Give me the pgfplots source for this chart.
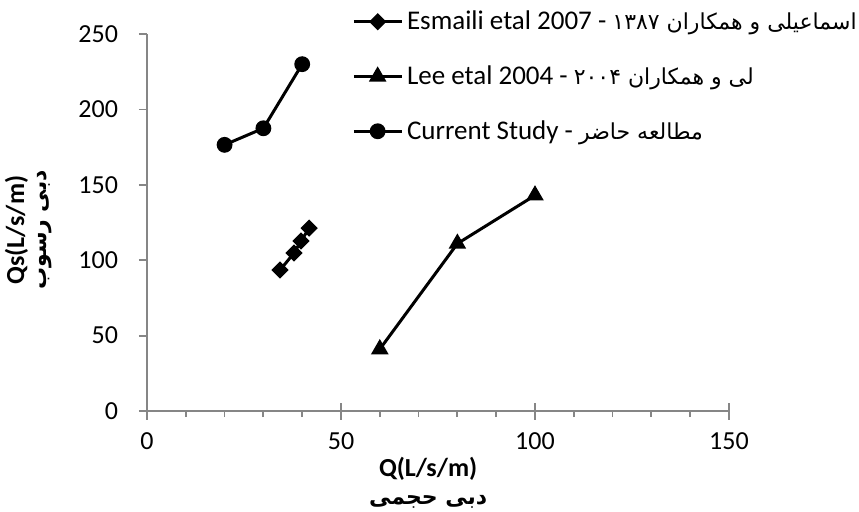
\documentclass[border=0pt]{standalone}
\usepackage{fontspec}
\setmainfont{Carlito}
\newfontfamily\arabicfont[Script=Arabic]{DejaVu Sans}
\TeXXeTstate=1
\usepackage{pgfplots}
\pgfplotsset{compat=1.18}
\definecolor{axgray}{HTML}{868686}

\pgfplotstableread{
x y
34.3 93.5
37.9 104.8
39.7 112.7
41.8 121.3
}\esmaili
\pgfplotstableread{
x y
60 41
80 111
100 143
}\lee
\pgfplotstableread{
x y
20 176.5
30 187.5
40 230
}\current

\begin{document}
\begin{tikzpicture}
\begin{axis}[
  scale only axis,
  width=291pt, height=188.5pt,
  xmin=0, xmax=150, ymin=0, ymax=250,
  axis x line=bottom, axis y line=left,
  axis line style={-, draw=axgray, line width=0.9pt},
  xtick={0,50,100,150}, ytick={0,50,100,150,200,250},
  minor x tick num=4,
  tick align=outside,
  major tick length=4pt, minor tick length=3pt,
  every tick/.style={draw=axgray, line width=0.9pt},
  /pgf/number format/assume math mode=true,
  tick label style={font=\fontsize{13}{15}\selectfont, black},
  xticklabel style={yshift=-3.5pt},
  yticklabel style={xshift=-7pt},
  xlabel={\textbf{Q(L/s/m)}\\\hbox{\arabicfont\bfseries\fontsize{11}{13}\selectfont\beginR دبی حجمی\endR}},
  xlabel style={align=center, font=\fontsize{13}{14}\selectfont, at={(axis description cs:0.483,-0.19)}, anchor=center},
  ylabel={\textbf{Qs(L/s/m)}\\\hbox{\arabicfont\bfseries\fontsize{11}{13}\selectfont\beginR دبی رسوب\endR}},
  ylabel style={align=center, font=\fontsize{13}{11}\selectfont, at={(axis description cs:-0.204,0.48)}, anchor=center},
  legend style={at={(axis description cs:0.352,1.073)}, anchor=north west,
    draw=none, fill=none, inner sep=0pt, row sep=12.5pt,
    font=\fontsize{13.5}{15}\selectfont, legend cell align=left},
  legend image code/.code={\draw[mark repeat=2,mark phase=2] plot coordinates {(0cm,0cm) (0.42cm,0cm) (0.84cm,0cm)};},
  clip=false,
]
\addplot[black, line width=1.5pt, mark=square*, mark size=2.3pt, mark options={rotate=45, solid}] table {\esmaili};
\addlegendentry{Esmaili etal 2007 - {\arabicfont\fontsize{11}{13}\selectfont\beginR اسماعیلی و همکاران ۱۳۸۷\endR}}
\addplot[black, line width=1.5pt, mark=triangle*, mark size=3.6pt, mark options={solid}] table {\lee};
\addlegendentry{Lee etal 2004 - {\arabicfont\fontsize{11}{13}\selectfont\beginR لی و همکاران ۲۰۰۴\endR}}
\addplot[black, line width=1.5pt, mark=*, mark size=3.2pt, mark options={solid}] table {\current};
\addlegendentry{Current Study - {\arabicfont\fontsize{11}{13}\selectfont\beginR مطالعه حاضر\endR}}
\end{axis}
\begin{axis}[
  scale only axis,
  width=291pt, height=188.5pt,
  xmin=0, xmax=150, ymin=0, ymax=250,
  axis x line=bottom, axis y line=none,
  axis line style={draw=none},
  xtick={0,50,100,150}, xticklabels={},
  ytick=\empty,
  tick align=center, major tick length=8.5pt,
  every tick/.style={draw=axgray, line width=0.9pt},
]
\end{axis}
\pgfresetboundingbox
\path[use as bounding box] (-73.5pt,-50pt) rectangle (356pt,205.5pt);
\end{tikzpicture}
\end{document}
